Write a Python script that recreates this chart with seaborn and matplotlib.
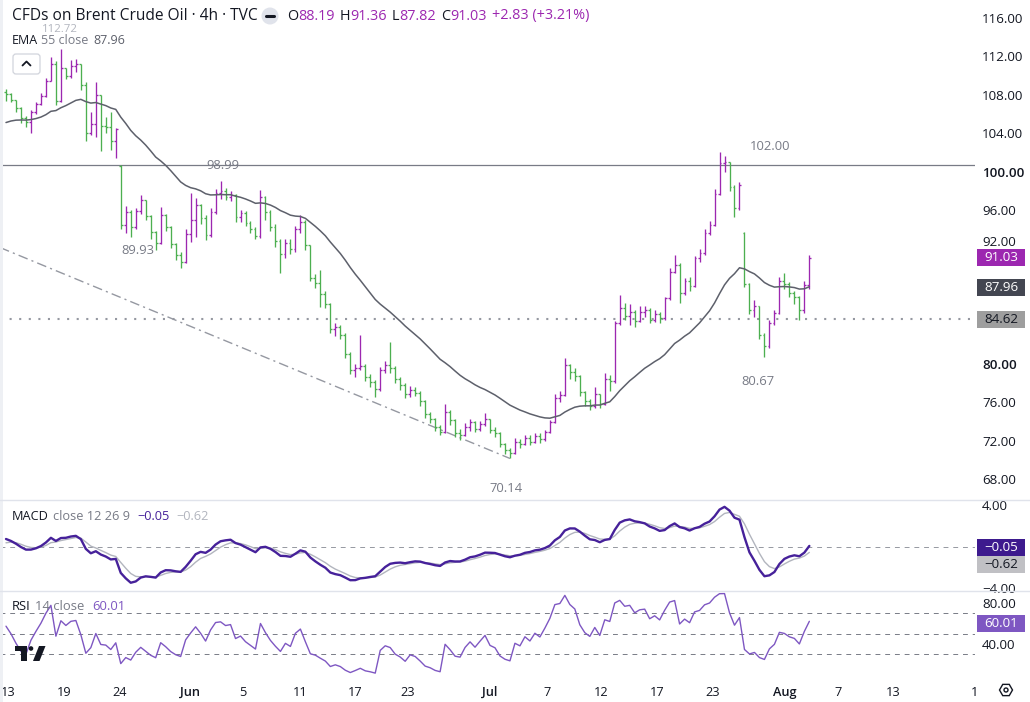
import numpy as np
import pandas as pd
import matplotlib
matplotlib.use("Agg")
import matplotlib.pyplot as plt
import seaborn as sns
from matplotlib import patches
from matplotlib.lines import Line2D
from matplotlib.transforms import IdentityTransform, blended_transform_factory

# ---------------- data (each drawn bar ~ two 4h bars) ----------------
closes = [108.1, 107.5, 106.6, 105.6, 105.2, 106.2, 107.0, 107.9, 109.4, 111.2,
          107.4, 110.8, 110.0, 111.0, 111.2, 109.0, 104.0, 105.0, 108.0, 104.8,
          104.6, 103.2, 104.4, 94.4, 95.8, 94.2, 95.9, 97.0, 95.4, 93.7,
          92.6, 95.5, 94.2, 92.5, 91.3, 90.6, 93.5, 95.0, 96.5, 95.2,
          93.4, 95.8, 97.8, 98.0, 97.4, 97.6, 95.3, 95.7, 94.7, 94.0,
          93.3, 97.4, 95.8, 94.2, 92.8, 91.4, 92.6, 91.9, 94.0, 94.8,
          92.4, 88.9, 88.4, 87.3, 86.2, 83.6, 83.8, 83.0, 81.0, 79.4,
          79.6, 79.8, 78.6, 78.1, 77.4, 79.4, 79.9, 79.6, 78.4, 77.8,
          76.8, 77.3, 77.0, 76.1, 74.8, 74.3, 73.4, 72.9, 75.0, 74.1,
          72.8, 72.6, 73.4, 73.9, 73.2, 73.7, 74.2, 73.1, 72.8, 71.6,
          71.0, 70.7, 71.9, 71.6, 72.3, 71.9, 72.5, 72.2, 72.9, 73.9,
          76.4, 76.7, 79.9, 79.1, 78.7, 77.1, 76.1, 75.6, 76.8, 75.8,
          78.4, 78.2, 84.2, 85.8, 85.0, 85.4, 84.5, 85.4, 85.6, 84.6,
          85.2, 84.8, 86.8, 89.6, 90.3, 87.4, 88.6, 88.1, 91.0, 91.5,
          93.6, 94.4, 97.7, 100.9, 101.0, 98.4, 96.2, 98.6, 88.3, 85.6,
          86.0, 83.0, 81.8, 84.2, 85.3, 88.6, 88.3, 87.4, 87.0, 85.6,
          88.19, 91.03]
highs = [108.6, 108.2, 107.5, 106.7, 105.8, 106.4, 107.3, 108.2, 109.8, 111.9,
         111.5, 112.72, 110.8, 111.6, 111.7, 111.2, 109.3, 106.2, 109.3, 108.0,
         105.7, 106.2, 104.5, 100.7, 96.4, 96.0, 96.2, 97.6, 97.0, 95.5,
         93.8, 96.3, 95.6, 94.3, 92.6, 91.6, 94.0, 97.8, 97.3, 96.6,
         95.5, 96.2, 98.2, 98.99, 98.3, 98.0, 97.7, 96.0, 95.9, 94.9,
         94.2, 98.1, 97.5, 96.0, 94.5, 93.0, 93.0, 93.0, 94.3, 95.5,
         95.0, 92.4, 89.3, 89.8, 87.6, 86.3, 84.2, 84.0, 83.2, 81.2,
         80.0, 83.0, 80.0, 78.9, 78.3, 79.7, 80.3, 82.3, 79.8, 78.6,
         78.0, 77.7, 77.6, 77.2, 76.2, 75.0, 74.4, 73.6, 75.8, 75.2,
         74.2, 73.2, 73.8, 74.2, 74.0, 74.0, 74.9, 74.2, 73.4, 72.9,
         71.8, 71.2, 72.3, 72.2, 72.6, 72.6, 72.8, 72.8, 73.1, 74.1,
         76.8, 77.2, 80.6, 80.0, 79.6, 78.8, 77.2, 76.3, 77.6, 76.9,
         79.0, 78.8, 84.5, 87.2, 86.3, 86.2, 85.6, 86.0, 86.0, 85.8,
         85.6, 85.4, 87.0, 90.0, 91.3, 90.5, 88.9, 89.0, 91.2, 91.9,
         94.0, 94.9, 98.2, 102.0, 101.6, 101.0, 98.6, 98.9, 93.7, 88.4,
         86.6, 86.0, 83.2, 84.6, 85.6, 89.0, 89.4, 88.5, 87.6, 87.1,
         88.6, 91.36]
lows = [107.4, 107.2, 106.2, 105.1, 104.6, 104.0, 106.0, 106.9, 107.8, 109.4,
        106.9, 107.3, 109.6, 109.8, 110.4, 108.5, 103.2, 103.8, 103.6, 102.2,
        104.0, 102.3, 101.4, 94.0, 93.6, 93.2, 94.0, 95.6, 95.0, 93.0,
        91.8, 92.5, 93.8, 92.0, 90.8, 89.93, 90.5, 92.7, 93.2, 94.6,
        92.9, 93.2, 95.6, 97.2, 97.0, 96.9, 94.8, 94.8, 94.3, 93.6,
        93.0, 93.1, 95.0, 93.8, 92.2, 89.5, 91.0, 91.4, 91.6, 93.6,
        91.8, 88.6, 87.9, 85.9, 85.8, 83.2, 82.9, 82.6, 80.6, 78.9,
        78.6, 79.3, 78.2, 77.6, 76.5, 77.2, 79.0, 79.0, 78.0, 77.3,
        76.4, 76.5, 76.6, 75.6, 74.4, 73.8, 73.0, 72.6, 72.8, 73.6,
        72.4, 72.1, 72.5, 73.0, 72.9, 73.0, 73.5, 72.8, 72.4, 71.3,
        70.6, 70.14, 70.6, 71.2, 71.5, 71.5, 71.8, 71.8, 72.0, 72.8,
        73.8, 76.0, 76.6, 78.4, 78.2, 76.6, 75.6, 75.2, 75.4, 75.4,
        75.7, 77.2, 78.0, 84.0, 84.6, 84.0, 83.8, 84.3, 84.9, 84.2,
        84.3, 84.2, 84.6, 86.6, 89.4, 86.3, 87.2, 87.6, 88.0, 90.6,
        91.3, 93.4, 94.3, 97.6, 100.0, 98.0, 95.3, 96.0, 88.0, 85.2,
        84.9, 82.6, 80.67, 81.6, 84.0, 85.2, 87.8, 87.0, 86.2, 84.6,
        85.3, 87.82]
first_open = 108.3
gap_opens = {23: 100.6, 148: 93.6}          # bars that opened away from the prior close

resistance_level = 100.7
support_level = 84.62
trend_start_price = 92.1

ema_seed = 104.9          # EMA value at the left edge
macd_start = 0.85         # MACD value at the left edge
signal_start = 0.15       # signal value at the left edge
rsi_seed_gain, rsi_seed_loss = 0.45, 0.30

price_ticks = [116, 112, 108, 104, 100, 96, 92, 88, 84, 80, 76, 72, 68]
hidden_price_ticks = [88, 84]        # covered by the value badges
nudged_price_tick = 92               # partly covered by the last-price badge
macd_ticks = [4, -4]
rsi_ticks = [80, 40]
rsi_levels = [70, 50, 30]

time_labels = ["13", "19", "24", "Jun", "5", "11", "17", "23", "Jul", "7", "12", "17", "23", "Aug", "7", "13", "1"]
time_label_pos = [0.4, 11.6, 22.8, 36.9, 47.5, 58.9, 69.9, 80.6, 97.0, 108.4, 119.2, 130.5, 141.7, 156.1, 166.7, 177.8, 194.2]

title_text = "CFDs on Brent Crude Oil · 4h · TVC"
ohlc_text = [("O", "88.19"), ("H", "91.36"), ("L", "87.82"), ("C", "91.03")]
change_text = "+2.83 (+3.21%)"
ema_value_text = "87.96"
macd_value_text, signal_value_text = "\u22120.05", "\u22120.62"
rsi_value_text = "60.01"
last_close_text = "91.03"
price_marks = [("98.99", 43.4, 100.65), ("89.93", 26.5, 91.84),
               ("70.14", 100.2, 67.06), ("102.00", 153.2, 102.57), ("80.67", 150.6, 78.2)]
top_high_text = "112.72"

# ---------------- derived series ----------------
n = len(closes)
c = np.array(closes)
o = np.concatenate([[first_open], c[:-1]])
for k, v in gap_opens.items():
    o[k] = v
h = np.array(highs)
l = np.array(lows)
x = np.arange(n)


def ema(values, span, seed):
    a = 2.0 / (span + 1.0)
    out, e = [], seed
    for v in values:
        e = e + a * (v - e)
        out.append(e)
    return np.array(out)


ema_line = ema(c, 29, ema_seed)
fast = ema(c, 6, c[0])
slow = ema(c, 13, c[0] - macd_start)
macd = fast - slow
signal = ema(macd, 4.5, signal_start)

d = np.diff(np.concatenate([[first_open], c]))
g, ls_ = rsi_seed_gain, rsi_seed_loss
rsi = []
for dv in d:
    g = (g * 6 + max(dv, 0)) / 7
    ls_ = (ls_ * 6 + max(-dv, 0)) / 7
    rsi.append(100 - 100 / (1 + g / ls_) if ls_ > 0 else 100)
rsi = np.array(rsi)

# ---------------- figure ----------------
sns.set_theme(style="white")
plt.rcParams['font.family'] = ['Open Sans', 'DejaVu Sans']
W, H = 1030, 702
fig = plt.figure(figsize=(W / 100, H / 100), dpi=100, facecolor="white")

DARK = "#131722"
GRAY = "#787b86"
UP = "#9c27b0"
DOWN = "#4caf50"
TICK_SIZE = 9.6


def fy(py):
    return 1 - py / H


ax = fig.add_axes([0, fy(499), 975 / W, 499 / H])
axm = fig.add_axes([0, fy(590), 975 / W, 90 / H], sharex=ax)
axr = fig.add_axes([0, fy(676), 975 / W, 85 / H], sharex=ax)

px_per_bar = 4.99
x0 = -6 / px_per_bar
x1 = (975 - 6) / px_per_bar
for a in (ax, axm, axr):
    a.set_facecolor("white")
    for s in a.spines.values():
        s.set_visible(False)
    a.grid(False)
    a.yaxis.tick_right()
    a.tick_params(axis='y', length=0, pad=5, labelsize=TICK_SIZE, labelcolor=DARK)
ax.set_xlim(x0, x1)
ax.set_ylim(65.92, 117.87)
axm.set_ylim(-4.18, 4.48)
axr.set_ylim(8.8, 91.8)

# price bars
cols = np.where(c >= o, UP, DOWN)
ax.vlines(x, l, h, colors=cols, lw=0.95, zorder=3)
ax.hlines(o, x - 0.38, x, colors=cols, lw=0.95, zorder=3)
ax.hlines(c, x, x + 0.38, colors=cols, lw=0.95, zorder=3)

sns.lineplot(x=x, y=ema_line, ax=ax, color="#5d606b", lw=1.1, zorder=4, legend=False)

ax.axhline(resistance_level, color="#787b86", lw=0.9, zorder=2)
ax.axhline(support_level, color="#9598a1", lw=1.5, ls=(0, (1, 3.6)), zorder=2)
low_idx = int(np.argmin(l))
ax.plot([x0, low_idx], [trend_start_price, l[low_idx]], color="#9598a1", lw=1.0,
        ls=(0, (7, 3, 1.5, 3)), zorder=2)

for txt, bx, py in price_marks:
    ax.text(bx, py, txt, ha="center", va="center", fontsize=9.4, color=GRAY, zorder=5)

labels = []
for t in price_ticks:
    labels.append("" if (t in hidden_price_ticks or t == nudged_price_tick) else f"{t:.2f}")
ax.set_yticks(price_ticks, labels)
for lab in ax.get_yticklabels():
    if lab.get_text() in ("100.00", "80.00"):
        lab.set_fontweight("semibold")

# MACD
axm.axhline(0, color="#9598a1", lw=0.7, ls=(0, (5, 5)))
sns.lineplot(x=x, y=signal, ax=axm, color="#b2b5be", lw=1.0, legend=False)
sns.lineplot(x=x, y=macd, ax=axm, color="#46219a", lw=1.7, legend=False)
axm.set_yticks(macd_ticks, [f"{t:.2f}".replace("-", "\u2212") for t in macd_ticks])

# RSI
for lv in rsi_levels:
    axr.axhline(lv, color="#787b86", lw=0.7, ls=(0, (5, 5)))
sns.lineplot(x=x, y=rsi, ax=axr, color="#7e57c2", lw=1.0, legend=False)
axr.set_yticks(rsi_ticks, [f"{t:.2f}" for t in rsi_ticks])

for a in (ax, axm):
    a.tick_params(axis='x', bottom=False, labelbottom=False)
axr.set_xticks(time_label_pos, time_labels)
axr.tick_params(axis='x', length=0, pad=7, labelsize=9.2, labelcolor=DARK)
for lab in axr.get_xticklabels():
    if lab.get_text() in ("Jun", "Jul", "Aug"):
        lab.set_fontweight("semibold")
ax.set_xlabel("")
axm.set_xlabel("")
axr.set_xlabel("")

# ---------------- decorations (pixel space) ----------------
ID = IdentityTransform()


def P(px, py):
    return (px, H - py)


for yy in (499.5, 590.5):
    fig.add_artist(Line2D([0, W], [H - yy, H - yy], transform=ID, color="#e0e3eb", lw=1))
fig.add_artist(patches.Rectangle((0, 0), 2.5, H, transform=ID, color="#eef0f4", lw=0))

fig.canvas.draw()
renderer = fig.canvas.get_renderer()

# the 92.00 scale label sits just above the last-price badge
y92 = ax.transData.transform((0, nudged_price_tick))[1] + 6
fig.text(982 / W, (y92) / H, f"{nudged_price_tick:.2f}", color=DARK, fontsize=TICK_SIZE,
         ha="left", va="center")


def chain(px, py, pieces, size):
    cx = px
    for txt, color, gap in pieces:
        t = fig.text(cx / W, fy(py), txt, color=color, fontsize=size, ha="left", va="center")
        cx += t.get_window_extent(renderer).width + gap
    return cx


chain(12, 16, [(title_text, DARK, 0)], 11.2)
fig.add_artist(patches.Circle(P(270, 16), 8.5, transform=ID, color="#e0e3eb", lw=0))
fig.add_artist(Line2D([266, 274], [H - 16, H - 16], transform=ID, color="#131722", lw=2.2,
                      solid_capstyle="round"))
pieces = []
for lab, val in ohlc_text:
    pieces += [(lab, DARK, 0), (val, UP, 5)]
pieces += [(change_text, UP, 0)]
chain(287, 16, pieces, 10.4)

fig.text(60 / W, fy(29), top_high_text, color="#b2b5be", fontsize=8.2, ha="center", va="center")
chain(12, 40, [("EMA", DARK, 3), ("55 close", GRAY, 5), (ema_value_text, "#5d606b", 0)], 9.0)
fig.add_artist(patches.FancyBboxPatch(P(13, 74), 27, 20, boxstyle="round,pad=0,rounding_size=3",
                                      transform=ID, fc="white", ec="#d1d4dc", lw=0.9))
fig.add_artist(Line2D([22.5, 26.5, 30.5], [H - 65.5, H - 61.5, H - 65.5], transform=ID,
                      color=DARK, lw=1.3))

chain(12, 517, [("MACD", DARK, 4), ("close 12 26 9", GRAY, 7), (macd_value_text, "#46219a", 7),
                (signal_value_text, "#b2b5be", 0)], 9.2)
chain(12, 606, [("RSI", DARK, 4), ("14 close", GRAY, 8), (rsi_value_text, "#7e57c2", 0)], 9.4)

# TradingView logo
fig.add_artist(patches.Rectangle(P(15, 651), 12, 5, transform=ID, color="#131722", lw=0))
fig.add_artist(patches.Rectangle(P(21, 661), 6, 15, transform=ID, color="#131722", lw=0))
fig.add_artist(patches.Circle(P(31, 648.5), 2.3, transform=ID, color="#131722", lw=0))
fig.add_artist(patches.Polygon([P(33, 661), P(39.5, 661), P(45.5, 646), P(39, 646)],
                               transform=ID, color="#131722", lw=0))

# settings icon
fig.add_artist(patches.RegularPolygon(P(1006, 690), 6, radius=6.5, orientation=np.pi / 6,
                                      transform=ID, fc="none", ec=DARK, lw=1.0))
fig.add_artist(patches.Circle(P(1006, 690), 2.0, transform=ID, fc="none", ec=DARK, lw=1.0))


# value badges on the scales
def badge(axis, value, text, bg, fg, dy=0.0):
    yy = axis.transData.transform((0, value))[1] - dy
    fig.add_artist(patches.Rectangle((977, yy - 8.5), 48, 17, transform=ID, color=bg, lw=0, zorder=5))
    fig.text(1001 / W, yy / H, text, color=fg, fontsize=9.6, ha="center", va="center", zorder=6)


badge(ax, c[-1], last_close_text, UP, "white")
badge(ax, float(ema_value_text), ema_value_text, "#434651", "white")
badge(ax, support_level, f"{support_level:.2f}", "#9e9e9e", DARK)
badge(axm, -0.05, macd_value_text, "#3d1a8e", "white")
badge(axm, -0.05, signal_value_text, "#c0c0c4", DARK, dy=17)
badge(axr, float(rsi_value_text), rsi_value_text, "#7e57c2", "white")

fig.savefig("out.png", dpi=100, facecolor="white")
